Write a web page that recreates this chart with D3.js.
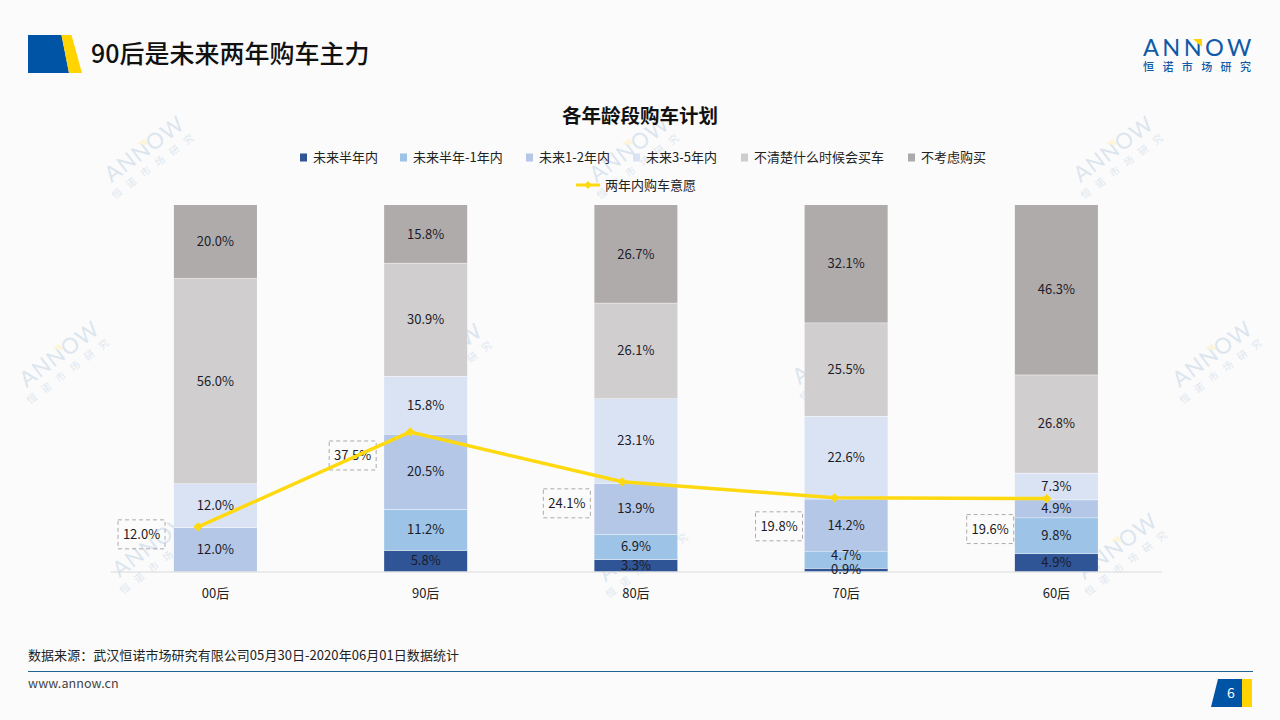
<!DOCTYPE html>
<html>
<head>
<meta charset="utf-8">
<script src="https://cdn.jsdelivr.net/npm/d3@7"></script>
<style>
html, body { margin: 0; padding: 0; background: #fbfbfb; }
svg { display: block; }
text { font-family: "Noto Sans CJK SC", "Noto Sans", sans-serif; }
</style>
</head>
<body>
<svg id="chart" width="1280" height="720"></svg>
<script>
const categories = ["00后", "90后", "80后", "70后", "60后"];
const seriesNames = ["未来半年内", "未来半年-1年内", "未来1-2年内", "未来3-5年内", "不清楚什么时候会买车", "不考虑购买"];
const within6m = [0, 5.8, 3.3, 0.9, 4.9];
const within1y = [0, 11.2, 6.9, 4.7, 9.8];
const within2y = [12.0, 20.5, 13.9, 14.2, 4.9];
const within5y = [12.0, 15.8, 23.1, 22.6, 7.3];
const unsure = [56.0, 30.9, 26.1, 25.5, 26.8];
const never = [20.0, 15.8, 26.7, 32.1, 46.3];
const lineName = "两年内购车意愿";
const intent = [12.0, 37.5, 24.1, 19.8, 19.6];

const seriesValues = [within6m, within1y, within2y, within5y, unsure, never];
const colors = ["#2f5597", "#9dc3e6", "#b4c7e7", "#dae3f3", "#d0cece", "#afabab"];
const legendColors = ["#2f5597", "#9dc3e6", "#b4c7e7", "#dae3f3", "#cdcdcd", "#ababab"];
const yellow = "#ffd90f";
const labelColor = "#1c1c28";

const svg = d3.select("#chart");

// watermarks go first, everything else sits on top
const marks = [[149, 155], [634, 155], [1118, 155], [64, 360], [447, 362], [837, 357], [1217, 360], [157, 550], [643, 554], [1122, 552]];
marks.forEach(function(m) {
    const g = svg.append("g")
        .attr("transform", `translate(${m[0]},${m[1]}) rotate(-37)`)
        .attr("opacity", 0.13);
    g.append("text").attr("text-anchor", "middle").attr("y", 0)
        .style("font-family", "Lato, sans-serif")
        .attr("font-size", 22).attr("letter-spacing", 1).attr("fill", "#0f5aa8").text("ANNOW");
    g.append("text").attr("text-anchor", "middle").attr("y", 15)
        .attr("font-size", 10).attr("letter-spacing", 8).attr("fill", "#0f5aa8").text("恒诺市场研究");
    g.append("path").attr("d", "M-3,-16H6V-8Z").attr("fill", "#ffd400");
});

// header
svg.append("path").attr("d", "M28,35H61.5L69,73H28Z").attr("fill", "#0054a6");
svg.append("path").attr("d", "M61.5,35H71.5L82,73H69Z").attr("fill", "#ffd400");
svg.append("text").attr("x", 91).attr("y", 63).attr("font-size", 25).attr("font-weight", 500)
    .attr("fill", "#111").text("90后是未来两年购车主力");

// logo
svg.append("text").attr("x", 1143).attr("y", 56).attr("font-size", 23.5).attr("letter-spacing", 3.4)
    .style("font-family", "Lato, sans-serif")
    .attr("fill", "#0f5aa8").text("ANNOW");
svg.append("path").attr("d", "M1193,39H1202V47Z").attr("fill", "#ffd400");
svg.append("text").attr("x", 1143).attr("y", 71).attr("font-size", 11).attr("font-weight", 500).attr("letter-spacing", 8.4)
    .attr("fill", "#0f5aa8").text("恒诺市场研究");

svg.append("text").attr("x", 640).attr("y", 123).attr("text-anchor", "middle")
    .attr("font-size", 19.5).attr("font-weight", 700).attr("fill", "#111").text("各年龄段购车计划");

// scales
const x = d3.scaleBand().domain(categories).range([110.3, 1161.5]).paddingInner(0.605).paddingOuter(0.3025);
const y = d3.scaleLinear().domain([0, 100]).range([571.5, 205]);
const xLine = d3.scalePoint().domain(categories).range([198, 1046.7]);
const yLine = d3.scaleLinear().domain([0, 98.5]).range([571.5, 205]);

const stackRows = categories.map((c, i) => {
    const row = { category: c };
    seriesNames.forEach((s, j) => { row[s] = seriesValues[j][i]; });
    return row;
});
const stacked = d3.stack().keys(seriesNames)(stackRows);

const layers = svg.selectAll("g.layer").data(stacked).join("g")
    .attr("class", "layer")
    .attr("fill", (d, i) => colors[i]);

layers.selectAll("rect")
    .data(d => d.filter(p => p[1] > p[0]))
    .join("rect")
    .attr("x", d => x(d.data.category))
    .attr("width", x.bandwidth())
    .attr("y", d => y(d[1]))
    .attr("height", d => y(d[0]) - y(d[1]));

// white gaps between the segments
layers.selectAll("line")
    .data(d => d.filter(p => p[1] > p[0] && p[1] < 99.99))
    .join("line")
    .attr("x1", d => x(d.data.category))
    .attr("x2", d => x(d.data.category) + x.bandwidth())
    .attr("y1", d => y(d[1]))
    .attr("y2", d => y(d[1]))
    .attr("stroke", "#ffffff")
    .attr("stroke-width", 1);

// axis
const axis = svg.append("g").attr("transform", `translate(0,${y(0)})`)
    .call(d3.axisBottom(x).tickSize(0).tickPadding(17));
axis.select(".domain").attr("stroke", "#d9d9d9").attr("stroke-width", 1);
axis.selectAll("text").attr("font-size", 13).attr("fill", "#222")
    .style("font-family", '"Noto Sans CJK SC", sans-serif');

// segment labels in their own group so no later rect covers them,
// the two thin 70后 segments need their labels pulled apart
function labelY(d) {
    const mid = (y(d[0]) + y(d[1])) / 2 + 4.6;
    if (d.data.category === "70后" && d[0] === 0.9) return mid - 4;
    return mid;
}
svg.append("g").selectAll("text")
    .data(stacked.flatMap(s => s.filter(p => p[1] > p[0])))
    .join("text")
    .attr("x", d => x(d.data.category) + x.bandwidth() / 2)
    .attr("y", labelY)
    .attr("text-anchor", "middle")
    .attr("font-size", 13)
    .attr("fill", labelColor)
    .text(d => (d[1] - d[0]).toFixed(1) + "%");

// callouts for the line values, they are placed to the left of each point
const boxW = 47, boxH = 29;
const boxDX = [-80, -81, -79, -79, -80];
const boxDY = [-7, 9, 7, 14, 16];
const callouts = svg.append("g").selectAll("g").data(intent).join("g")
    .attr("transform", (d, i) => `translate(${xLine(categories[i]) + boxDX[i]},${yLine(d) + boxDY[i]})`);
callouts.append("rect")
    .attr("width", boxW).attr("height", boxH)
    .attr("fill", "none").attr("stroke", "#ababab").attr("stroke-width", 1)
    .attr("stroke-dasharray", "4,3");
callouts.append("text")
    .attr("x", boxW / 2).attr("y", boxH / 2 + 5)
    .attr("text-anchor", "middle").attr("font-size", 13).attr("fill", labelColor)
    .text(d => d.toFixed(1) + "%");

// line
const line = d3.line().x((d, i) => xLine(categories[i])).y(d => yLine(d));
svg.append("path").datum(intent).attr("d", line)
    .attr("fill", "none").attr("stroke", yellow).attr("stroke-width", 3.5).attr("stroke-linejoin", "round");
svg.append("g").selectAll("path").data(intent).join("path")
    .attr("d", d3.symbol().type(d3.symbolDiamond2).size(55))
    .attr("transform", (d, i) => `translate(${xLine(categories[i])},${yLine(d)})`)
    .attr("fill", yellow);

// legend
const legendX = [300, 400, 526, 633, 741, 908];
const legend = svg.append("g").selectAll("g").data(seriesNames).join("g")
    .attr("transform", (d, i) => `translate(${legendX[i]},152)`);
legend.append("rect").attr("width", 7).attr("height", 8).attr("y", 1.5)
    .attr("fill", (d, i) => legendColors[i]);
legend.append("text").attr("x", 13).attr("y", 10).attr("font-size", 13).attr("fill", "#222").text(d => d);

svg.append("line").attr("x1", 576).attr("x2", 600).attr("y1", 185).attr("y2", 185)
    .attr("stroke", yellow).attr("stroke-width", 3);
svg.append("path").attr("d", d3.symbol().type(d3.symbolDiamond2).size(40))
    .attr("transform", "translate(588,185)").attr("fill", yellow);
svg.append("text").attr("x", 605).attr("y", 190).attr("font-size", 13).attr("fill", "#222").text(lineName);

// footer
svg.append("text").attr("x", 28).attr("y", 660).attr("font-size", 13).attr("letter-spacing", 0.05).attr("fill", "#222")
    .text("数据来源\uFF1A武汉恒诺市场研究有限公司05月30日-2020年06月01日数据统计");
svg.append("line").attr("x1", 28).attr("x2", 1253).attr("y1", 671.5).attr("y2", 671.5)
    .attr("stroke", "#1f6391").attr("stroke-width", 1);
svg.append("text").attr("x", 28).attr("y", 688).attr("font-size", 12.5).attr("letter-spacing", 0.1)
    .attr("fill", "#444").text("www.annow.cn");
svg.append("path").attr("d", "M1218,679H1242V707H1211Z").attr("fill", "#0054a6");
svg.append("rect").attr("x", 1242).attr("y", 679).attr("width", 10).attr("height", 28).attr("fill", "#ffd400");
svg.append("text").attr("x", 1231).attr("y", 698).attr("text-anchor", "middle").attr("font-size", 14)
    .attr("fill", "#fff").text("6");
</script>
</body>
</html>
